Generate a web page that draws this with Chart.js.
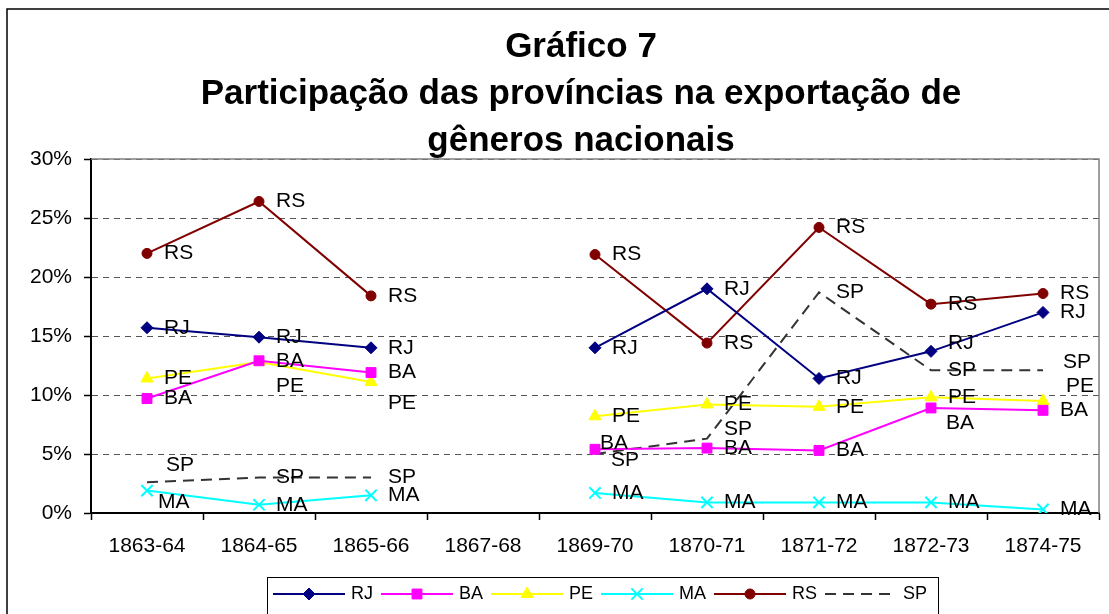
<!DOCTYPE html>
<html>
<head>
<meta charset="utf-8">
<script src="https://cdn.jsdelivr.net/npm/chart.js@4"></script>
<style>
  html, body { margin: 0; padding: 0; background: #fff; }
  #wrap { width: 1109px; height: 614px; position: relative; }
</style>
</head>
<body>
<div id="wrap"><canvas id="myChart" width="1109" height="614"></canvas></div>
<script>
// safras (1867-68 sem dados)
var periods = ['1863-64', '1864-65', '1865-66', '1867-68', '1869-70', '1870-71', '1871-72', '1872-73', '1874-75'];

// participação de cada província (%)
var rj = [15.7, 14.9, 14.0, null, 14.0, 19.0, 11.4, 13.7, 17.0];
var ba = [9.7, 12.9, 11.9, null, 5.4, 5.5, 5.3, 8.9, 8.7];
var pe = [11.4, 12.8, 11.1, null, 8.2, 9.2, 9.0, 9.8, 9.5];
var ma = [1.9, 0.7, 1.5, null, 1.7, 0.9, 0.9, 0.9, 0.3];
var rs = [22.0, 26.4, 18.4, null, 21.9, 14.4, 24.2, 17.7, 18.6];
var sp = [2.6, 3.0, 3.0, null, 5.0, 6.3, 18.7, 12.1, 12.1];

// eixo y
var yTicks = [0, 5, 10, 15, 20, 25, 30];

var titleLines = ['Gráfico 7', 'Participação das províncias na exportação de', 'gêneros nacionais'];

// deslocamento dos rótulos que não ficam à direita do ponto
var labelNudge = {
  'PE-1': [17, 24], 'PE-2': [17, 21], 'SP-0': [19, -17], 'MA-0': [11, 12],
  'BA-4': [5, -6], 'SP-4': [16, 6], 'SP-5': [17, -9], 'RJ-7': [17, -8],
  'BA-7': [15, 15], 'SP-8': [20, -8], 'PE-8': [23, -15]
};

var FONT = '"Liberation Sans", Arial, sans-serif';

// fundo, moldura, título e área do gráfico
var framePlugin = {
  id: 'moldura',
  beforeDraw: function(chart) {
    var ctx = chart.ctx;
    ctx.save();
    ctx.fillStyle = '#fff';
    ctx.fillRect(0, 0, chart.width, chart.height);
    ctx.strokeStyle = '#000';
    ctx.lineWidth = 1.5;
    ctx.strokeRect(7, 9, 1300, 800);
    // título em três linhas
    ctx.fillStyle = '#000';
    ctx.font = 'bold 35px ' + FONT;
    ctx.textAlign = 'center';
    ctx.textBaseline = 'alphabetic';
    titleLines.forEach(function(t, i) {
      ctx.fillText(t, 581, 57 + i * 47);
    });
    ctx.restore();
  },
  beforeDatasetsDraw: function(chart) {
    var a = chart.chartArea, ctx = chart.ctx;
    ctx.save();
    ctx.strokeStyle = '#808080';
    ctx.lineWidth = 1.5;
    ctx.beginPath();
    ctx.moveTo(a.left, a.top);
    ctx.lineTo(a.right, a.top);
    ctx.lineTo(a.right, a.bottom);
    ctx.stroke();
    ctx.restore();
  }
};

// rótulos com o nome da série em cada ponto
var labelPlugin = {
  id: 'rotulos',
  afterDatasetsDraw: function(chart) {
    var ctx = chart.ctx;
    ctx.save();
    ctx.font = '21px ' + FONT;
    ctx.fillStyle = '#000';
    ctx.textAlign = 'left';
    ctx.textBaseline = 'middle';
    chart.data.datasets.forEach(function(ds, i) {
      var meta = chart.getDatasetMeta(i);
      meta.data.forEach(function(pt, j) {
        if (ds.data[j] === null) return;
        var n = labelNudge[ds.label + '-' + j] || [17, 0];
        ctx.fillText(ds.label, pt.x + n[0], pt.y + n[1]);
      });
    });
    ctx.restore();
  }
};

// legenda estilo Excel (linha + marcador)
var legendPlugin = {
  id: 'legenda',
  afterDraw: function(chart) {
    var ctx = chart.ctx;
    var x = 273, y = 594;
    ctx.save();
    ctx.strokeStyle = '#000';
    ctx.lineWidth = 1;
    ctx.strokeRect(267.5, 577.5, 671, 60);
    ctx.font = '18px ' + FONT;
    ctx.textBaseline = 'middle';
    chart.data.datasets.forEach(function(ds) {
      ctx.strokeStyle = ds.borderColor;
      ctx.lineWidth = ds.borderWidth;
      ctx.setLineDash(ds.borderDash || []);
      ctx.beginPath();
      ctx.moveTo(x, y);
      ctx.lineTo(x + 72, y);
      ctx.stroke();
      ctx.setLineDash([]);
      if (ds.pointRadius > 0) {
        ctx.fillStyle = ds.pointBackgroundColor;
        ctx.strokeStyle = ds.pointBorderColor;
        ctx.lineWidth = ds.pointBorderWidth;
        Chart.helpers.drawPoint(ctx, {pointStyle: ds.pointStyle, radius: ds.pointRadius, borderWidth: ds.pointBorderWidth, rotation: 0}, x + 36, y);
      }
      ctx.fillStyle = '#000';
      ctx.fillText(ds.label, x + 78, y);
      x += 78 + ctx.measureText(ds.label).width + 8;
    });
    ctx.restore();
  }
};

function serie(label, data, color, style, radius) {
  return {
    label: label,
    data: data,
    borderColor: color,
    backgroundColor: color,
    borderWidth: 2,
    pointStyle: style,
    pointRadius: radius,
    pointHoverRadius: radius,
    pointBackgroundColor: color,
    pointBorderColor: color,
    pointBorderWidth: style === 'crossRot' ? 2 : 1,
    tension: 0,
    spanGaps: false
  };
}

var spSerie = serie('SP', sp, '#333333', 'circle', 0);
spSerie.borderDash = [11, 7];

var ctx = document.getElementById('myChart').getContext('2d');
var myChart = new Chart(ctx, {
  type: 'line',
  data: {
    labels: periods,
    datasets: [
      serie('RJ', rj, '#000080', 'rectRot', 6),
      serie('BA', ba, '#FF00FF', 'rect', 7),
      serie('PE', pe, '#FFFF00', 'triangle', 7),
      serie('MA', ma, '#00FFFF', 'crossRot', 8),
      serie('RS', rs, '#800000', 'circle', 5),
      spSerie
    ]
  },
  plugins: [framePlugin, labelPlugin, legendPlugin],
  options: {
    responsive: false,
    animation: false,
    layout: { padding: { left: 7, right: 5, top: 159, bottom: 53 } },
    plugins: {
      legend: { display: false },
      tooltip: { enabled: false },
      title: { display: false }
    },
    scales: {
      x: {
        offset: true,
        grid: { display: true, drawOnChartArea: false, drawTicks: true, offset: true, tickLength: 7, tickColor: '#000', tickWidth: 1.5 },
        border: { color: '#000', width: 2 },
        ticks: { color: '#000', font: { family: FONT, size: 21 }, padding: 14, maxRotation: 0, autoSkip: false },
        afterFit: function(s) { s.height = 48; }
      },
      y: {
        min: 0,
        max: 30,
        afterBuildTicks: function(s) { s.ticks = yTicks.map(function(v) { return {value: v}; }); },
        grid: { color: '#555', lineWidth: 1, tickLength: 7, tickColor: '#000', tickWidth: 1.5 },
        border: { color: '#000', width: 2, dash: [6, 5] },
        ticks: { color: '#000', font: { family: FONT, size: 21 }, padding: 12, callback: function(v) { return v + '%'; } },
        afterFit: function(s) { s.width = 84; }
      }
    }
  }
});
</script>
</body>
</html>
